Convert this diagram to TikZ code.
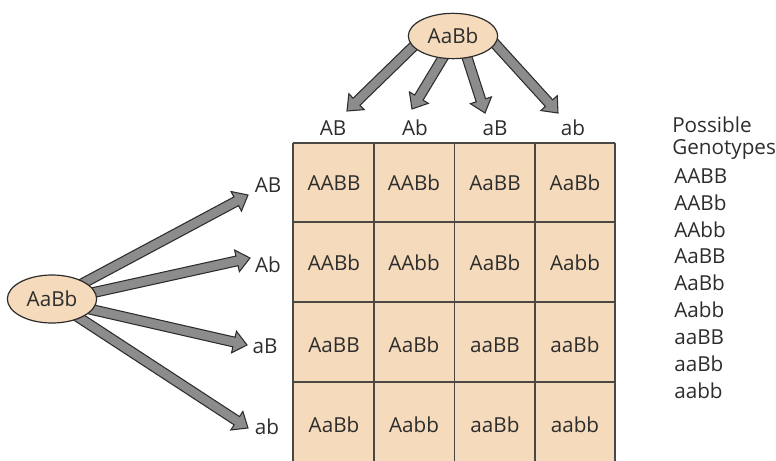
\documentclass[tikz,border=0pt]{standalone}
\usepackage{fontspec}
\setmainfont{Open Sans}
\usetikzlibrary{calc,shapes.geometric}

\definecolor{peach}{RGB}{245,219,187}
\definecolor{arrowgray}{RGB}{140,140,140}
\definecolor{inkdark}{RGB}{45,45,45}
\definecolor{gridline}{RGB}{75,72,68}

% shaft half-width and head size of the fat arrows
\newcommand\shaftw{3.7pt}
\newcommand\headw{8.3pt}
\newcommand\headl{10pt}
% fat outlined arrow from coordinate #1 to tip coordinate #2
\newcommand\fatarrow[2]{%
  \coordinate (hb) at ($(#2)!\headl!(#1)$);
  \draw[fatarrow]
    ($(#1)!\shaftw!90:(#2)$) -- ($(hb)!\shaftw!90:(#2)$) --
    ($(hb)!\headw!90:(#2)$) -- (#2) -- ($(hb)!\headw!-90:(#2)$) --
    ($(hb)!\shaftw!-90:(#2)$) -- ($(#1)!\shaftw!-90:(#2)$) -- cycle;
}

\tikzset{
  fatarrow/.style={draw=inkdark, fill=arrowgray, line width=0.8pt, line join=miter},
  parent/.style={ellipse, draw=inkdark, fill=peach, line width=0.9pt,
    minimum width=67pt, minimum height=34pt, inner sep=0pt, text=inkdark},
  txt/.style={text=inkdark, inner sep=0pt, font=\fontsize{15.5}{18}\selectfont},
  gridrule/.style={draw=gridline, line width=1pt},
}

\begin{document}
\begin{tikzpicture}[x=0.75pt,y=-0.75pt]
\useasboundingbox (0,0) rectangle (776,461);

% ---- Punnett square ----
\fill[peach] (293,143) rectangle (615,462);
\foreach \x in {293,374,454.5,535,615} \draw[gridrule] (\x,143) -- (\x,462);
\foreach \y in {143,222,302,382,462} \draw[gridrule] (293,\y) -- (615,\y);

\foreach \r/\y/\a/\b/\c/\d in {
  1/183/AABB/AABb/AaBB/AaBb,
  2/263/AABb/AAbb/AaBb/Aabb,
  3/345/AaBB/AaBb/aaBB/aaBb,
  4/425/AaBb/Aabb/aaBb/aabb}{
  \node[txt] (c\r1) at (334,\y) {\a};
  \node[txt] (c\r2) at (414,\y) {\b};
  \node[txt] (c\r3) at (495,\y) {\c};
  \node[txt] (c\r4) at (575,\y) {\d};
}

% ---- column gametes (top parent) ----
\node[txt] (tAB) at (333,128) {AB};
\node[txt] (tAb) at (415,128) {Ab};
\node[txt] (taB) at (495,128) {aB};
\node[txt] (tab) at (573,128) {ab};

\coordinate (ts1) at (420,40);   \coordinate (tt1) at (347,111);
\coordinate (ts2) at (447,51);   \coordinate (tt2) at (412,109);
\coordinate (ts3) at (464,48);   \coordinate (tt3) at (485,113);
\coordinate (ts4) at (488,36);   \coordinate (tt4) at (558,113);
\fatarrow{ts1}{tt1}
\fatarrow{ts2}{tt2}
\fatarrow{ts3}{tt3}
\fatarrow{ts4}{tt4}
\node[parent, font=\fontsize{15.5}{18}\selectfont] (ptop) at (453,36) {AaBb};

% ---- row gametes (left parent) ----
\node[txt] (lAB) at (268,185) {AB};
\node[txt] (lAb) at (268,265) {Ab};
\node[txt] (laB) at (265,346) {aB};
\node[txt] (lab) at (267,427) {ab};

\coordinate (ls1) at (76,287);   \coordinate (lt1) at (248,195);
\coordinate (ls2) at (87,294);   \coordinate (lt2) at (250,258);
\coordinate (ls3) at (85,308);   \coordinate (lt3) at (247,345);
\coordinate (ls4) at (75,315);   \coordinate (lt4) at (248,428);
\fatarrow{ls1}{lt1}
\fatarrow{ls2}{lt2}
\fatarrow{ls3}{lt3}
\fatarrow{ls4}{lt4}
\node[parent, minimum height=36pt, font=\fontsize{15.5}{18}\selectfont] (pleft) at (52,299) {AaBb};

% ---- list of possible genotypes ----
\node[txt, anchor=west, align=left, font=\fontsize{15.5}{16.5}\selectfont] (head) at (672,138)
  {Possible\\Genotypes};
\foreach \g [count=\i from 0] in {AABB,AABb,AAbb,AaBB,AaBb,Aabb,aaBB,aaBb,aabb}
  \node[txt, anchor=west] (g\i) at (674,176+26.8*\i) {\g};
\end{tikzpicture}
\end{document}
